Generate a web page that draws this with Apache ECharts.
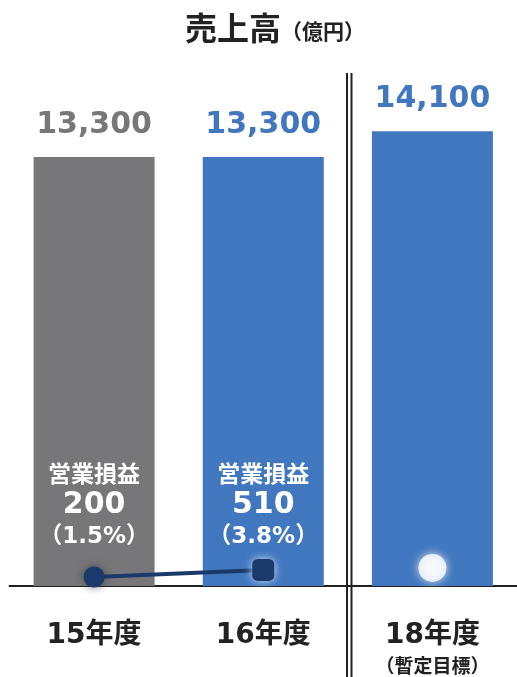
<!DOCTYPE html>
<html><head><meta charset="utf-8">
<script src="https://cdn.jsdelivr.net/npm/echarts@6/dist/echarts.min.js"></script>
<style>html,body{margin:0;padding:0;background:#fff;}#c{width:517px;height:677px;}</style>
</head><body><div id="c"></div>
<script>
const categories = ['15年度', '16年度', '18年度'];
const subLabels = ['', '', '（暫定目標）'];
const sales = [13300, 13300, 14100];
const salesLabels = ['13,300', '13,300', '14,100'];
const opProfit = [200, 510, null];
const opMargin = ['1.5%', '3.8%', null];
const targetMarker = [null, null, 600];

const GRAY = '#77777a', BLUE = '#4177be', NAVY = '#1b3a6b';
const FONT = '"DejaVu Sans", "Noto Sans CJK JP", sans-serif';
const CJK = '"Noto Sans CJK JP", sans-serif';
const barColors = [GRAY, BLUE, BLUE];

const chart = echarts.init(document.getElementById('c'));
chart.setOption({
  animation: false,
  title: {
    text: '{a|売上高}{b|（億円）}',
    left: 180, top: 7,
    textStyle: {
      rich: {
        a: { fontFamily: CJK, fontWeight: 'bold', fontSize: 32, color: '#222' },
        b: { fontFamily: CJK, fontWeight: 'bold', fontSize: 21, color: '#222', padding: [7, 0, 0, 0] }
      }
    }
  },
  grid: { left: 9.5, right: -2.5, top: 70, bottom: 91 },
  xAxis: {
    type: 'category', data: categories,
    axisLine: { lineStyle: { color: '#222', width: 2 } },
    axisTick: { show: false },
    axisLabel: {
      margin: 33,
      formatter: (v, i) => subLabels[i] ? '{m|' + v + '}\n{s|' + subLabels[i] + '}' : '{m|' + v + '}',
      rich: {
        m: { fontFamily: FONT, fontWeight: 'bold', fontSize: 28, color: '#222', lineHeight: 34 },
        s: { fontFamily: CJK, fontWeight: 'bold', fontSize: 19, color: '#222', lineHeight: 26 }
      }
    }
  },
  yAxis: [
    { type: 'value', min: 0, max: 16000, show: false, splitLine: { show: false } },
    { type: 'value', min: -200, max: 22650, show: false, splitLine: { show: false } }
  ],
  series: [
    {
      type: 'bar', barWidth: 121, z: 2,
      data: sales.map((v, i) => ({
        value: v,
        itemStyle: { color: barColors[i] },
        label: {
          show: true, position: 'top', distance: 17,
          fontFamily: FONT, fontWeight: 'bold', fontSize: 30,
          formatter: salesLabels[i],
          color: barColors[i]
        }
      }))
    },
    {
      type: 'bar', barWidth: 121, barGap: '-100%', z: 3,
      itemStyle: { color: 'rgba(0,0,0,0)' },
      data: sales.map((v, i) => ({
        value: v,
        label: {
          show: opProfit[i] != null, position: 'insideBottom', distance: 33,
          formatter: '{a|営業損益}\n{b|' + opProfit[i] + '}\n{c|（' + opMargin[i] + '）}',
          rich: {
            a: { fontFamily: CJK, fontWeight: 'bold', fontSize: 23, color: '#fff', lineHeight: 32, align: 'center' },
            b: { fontFamily: FONT, fontWeight: 'bold', fontSize: 30, color: '#fff', lineHeight: 32, align: 'center' },
            c: { fontFamily: FONT, fontWeight: 'bold', fontSize: 23, color: '#fff', lineHeight: 32, align: 'center' }
          }
        }
      })),
      silent: true
    },
    {
      type: 'line', yAxisIndex: 1, z: 5,
      data: opProfit.map((v, i) => ({
        value: v,
        symbol: i === 1 ? 'roundRect' : 'circle',
        symbolSize: i === 1 ? 22 : 21,
        itemStyle: {
          color: NAVY,
          shadowBlur: 8,
          shadowColor: i === 1 ? 'rgba(220,235,255,0.9)' : 'rgba(40,40,40,0.6)'
        }
      })),
      showAllSymbol: true,
      lineStyle: { color: NAVY, width: 4 },
      connectNulls: false
    },
    {
      type: 'scatter', yAxisIndex: 1, z: 5,
      data: targetMarker,
      symbolSize: 28,
      itemStyle: { color: '#ffffff', shadowBlur: 10, shadowColor: 'rgba(255,255,255,1)' }
    }
  ],
  graphic: [
    { type: 'line', shape: { x1: 347, y1: 73, x2: 347, y2: 677 }, style: { stroke: '#222', lineWidth: 2 }, z: 10 },
    { type: 'line', shape: { x1: 351.5, y1: 73, x2: 351.5, y2: 677 }, style: { stroke: '#222', lineWidth: 2 }, z: 10 }
  ]
});
</script>
</body></html>
